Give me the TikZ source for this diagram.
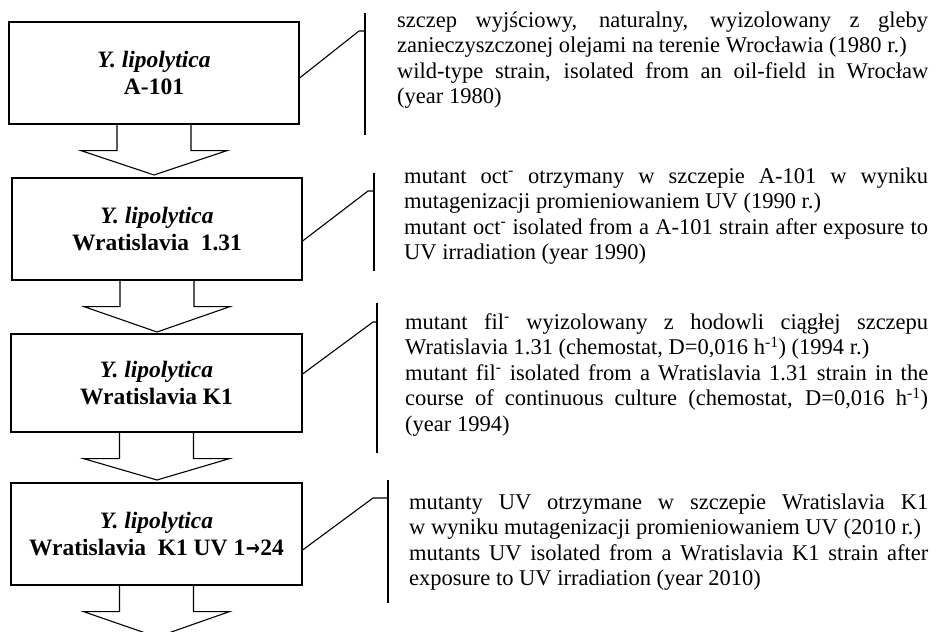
\documentclass[tikz,border=0pt]{standalone}
\usepackage{fontspec}
\setmainfont{Liberation Serif}
\newfontfamily\arrowfont{DejaVu Sans}
\usetikzlibrary{calc}
\newcommand\jline[1]{\makebox[\linewidth][s]{#1}}
\newcommand\rtext{\fontsize{22.5pt}{25.6pt}\selectfont}
\newcommand\smallarrow{\kern0.5pt\scalebox{0.72}[0.9]{\arrowfont\bfseries →}\kern0.5pt}
\begin{document}
\begin{tikzpicture}[x=1pt,y=-1pt,
  box/.style={draw, line width=1.2pt, inner sep=0pt, align=center,
    font=\fontsize{23.5pt}{27.5pt}\selectfont\bfseries},
  arrowline/.style={draw, line width=1.1pt, line join=miter},
  callout/.style={line width=1.1pt},
  bar/.style={line width=1.4pt},
  desc/.style={anchor=base west, inner sep=0pt}]
\clip (0,0) rectangle (938,632);
\fill[white] (0,0) rectangle (938,632);

% strain boxes
\node[box, minimum width=290pt, minimum height=102pt] (b1) at (154,73)
  {\textit{Y. lipolytica}\\A-101};
\node[box, minimum width=290pt, minimum height=102pt] (b2) at (157,229)
  {\textit{Y. lipolytica}\\Wratislavia~~1.31};
\node[box, minimum width=291pt, minimum height=98pt] (b3) at (156.5,383)
  {\textit{Y. lipolytica}\\Wratislavia K1};
\node[box, minimum width=291pt, minimum height=102pt] (b4) at (156.5,534)
  {\textit{Y. lipolytica}\\Wratislavia~~K1 UV 1\smallarrow24};

% arrow tips
\coordinate (t1) at (154,175);
\coordinate (t2) at (157,332);
\coordinate (t3) at (157,480);
\coordinate (t4) at (157,637);

\newcommand\blockarrow[2]{%
  \draw[arrowline] ($(#1.south)+(-37,0)$) |- ($(#1.south)+(-73,26)$)
    -- (#2) -- ($(#1.south)+(73,26)$) -| ($(#1.south)+(37,0)$);}
\blockarrow{b1}{t1}
\blockarrow{b2}{t2}
\blockarrow{b3}{t3}
\blockarrow{b4}{t4}

% callout bars
\coordinate (v1a) at (365,13);  \coordinate (v1b) at (365,135);
\coordinate (k1) at (359,31);   \coordinate (k1e) at (365,31);
\coordinate (v2a) at (374,173); \coordinate (v2b) at (374,271);
\coordinate (k2) at (368,191);  \coordinate (k2e) at (374,191);
\coordinate (v3a) at (377,303); \coordinate (v3b) at (377,453);
\coordinate (k3) at (373,322);  \coordinate (k3e) at (377,322);
\coordinate (v4a) at (388,480); \coordinate (v4b) at (388,603);
\coordinate (k4) at (373,498);  \coordinate (k4e) at (388,498);

\draw[bar] (v1a) -- (v1b);
\draw[bar] (v2a) -- (v2b);
\draw[bar] (v3a) -- (v3b);
\draw[bar] (v4a) -- (v4b);
\draw[callout] ($(b1.east)+(0,5)$) -- (k1) -- (k1e);
\draw[callout] ($(b2.east)+(0,12)$) -- (k2) -- (k2e);
\draw[callout] ($(b3.east)+(0,-9)$) -- (k3) -- (k3e);
\draw[callout] ($(b4.east)+(0,16)$) -- (k4) -- (k4e);

% descriptions
\node[desc] (d1) at (397,27) {\parbox[t]{531pt}{\rtext\parindent0pt
\jline{szczep wyjściowy, naturalny, wyizolowany z gleby}\\
zanieczyszczonej olejami na terenie Wrocławia (1980 r.)\\
\jline{wild-type strain, isolated from an oil-field in Wrocław}\\
(year 1980)}};

\node[desc] (d2) at (404,183) {\parbox[t]{524pt}{\rtext\parindent0pt
\jline{mutant oct\textsuperscript{-} otrzymany w szczepie A-101 w wyniku}\\
mutagenizacji promieniowaniem UV (1990 r.)\\
\jline{mutant oct\textsuperscript{-} isolated from a A-101 strain after exposure to}\\
UV irradiation (year 1990)}};

\node[desc] (d3) at (405,329) {\parbox[t]{523pt}{\rtext\parindent0pt
\jline{mutant fil\textsuperscript{-} wyizolowany z hodowli ciągłej szczepu}\\
Wratislavia 1.31 (chemostat, D=0,016 h\textsuperscript{-1}) (1994 r.)\\
\jline{mutant fil\textsuperscript{-} isolated from a Wratislavia 1.31 strain in the}\\
\jline{course of continuous culture (chemostat, D=0,016 h\textsuperscript{-1})}\\
(year 1994)}};

\node[desc] (d4) at (409,509) {\parbox[t]{519pt}{\rtext\parindent0pt
\jline{mutanty UV otrzymane w szczepie Wratislavia K1}\\
w wyniku mutagenizacji promieniowaniem UV (2010 r.)\\
\jline{mutants UV isolated from a Wratislavia K1 strain after}\\
exposure to UV irradiation (year 2010)}};
\end{tikzpicture}
\end{document}
